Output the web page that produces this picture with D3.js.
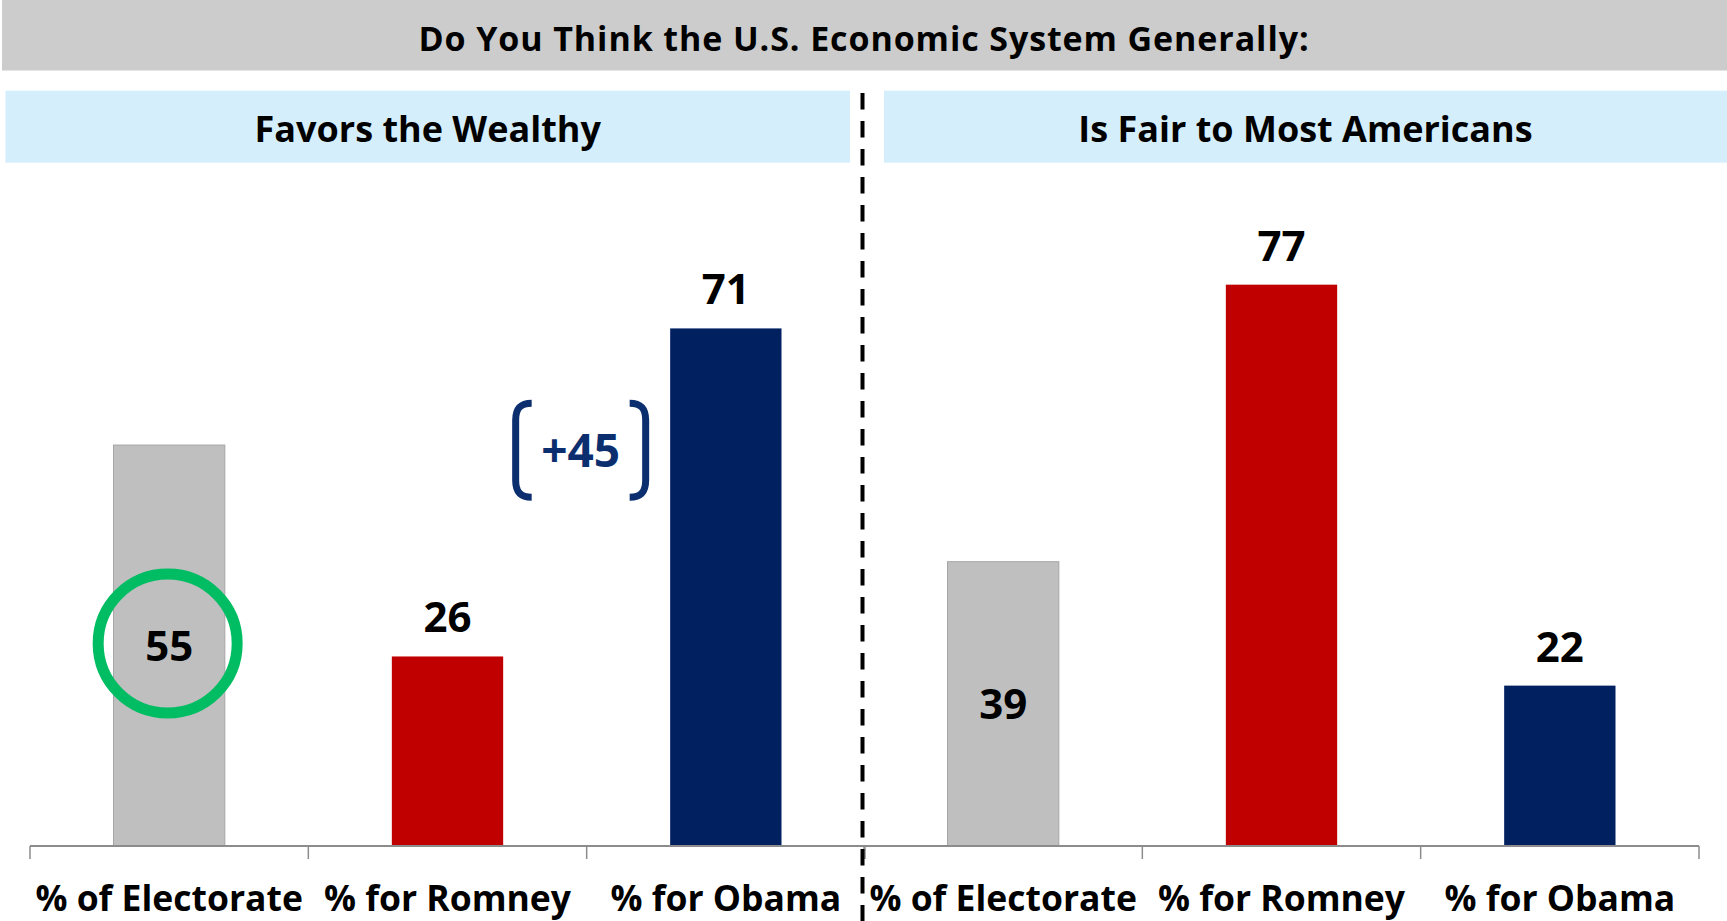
<!DOCTYPE html>
<html>
<head>
<meta charset="utf-8">
<script src="https://cdn.jsdelivr.net/npm/d3@7"></script>
<style>
  html, body { margin: 0; padding: 0; background: #ffffff; }
  svg { display: block; }
  text { font-family: "Open Sans", Lato, sans-serif; font-weight: 700; }
</style>
</head>
<body>
<svg id="chart" width="1727" height="921"></svg>
<script>
// ---- data ----
const title = "Do You Think the U.S. Economic System Generally:";
const panelTitles = ["Favors the Wealthy", "Is Fair to Most Americans"];
const categories = ["% of Electorate", "% for Romney", "% for Obama"];
const favorsWealthyValues = [55, 26, 71];
const fairToMostValues = [39, 77, 22];
const barColors = ["#BFBFBF", "#C00000", "#002060"];
const highlightCategory = "% of Electorate"; // circled in the first panel
const gapAnnotationLevel = 54.3; // value level where "+45" sits

const W = 1727, H = 921;
const svg = d3.select("#chart");

const baseY = 846;
const y = d3.scaleLinear().domain([0, 80]).range([baseY, baseY - 80 * 7.29]);

// title bar
svg.append("rect").attr("x", 2).attr("y", 0).attr("width", W - 2).attr("height", 70.5).attr("fill", "#CCCCCC");
svg.append("text").attr("x", 864).attr("y", 51).attr("text-anchor", "middle")
  .attr("font-size", 34).attr("letter-spacing", 0.9).attr("fill", "#000").text(title);

const panels = [
  { title: panelTitles[0], values: favorsWealthyValues, box: [5.5, 850], range: [30, 865] },
  { title: panelTitles[1], values: fairToMostValues, box: [884, W], range: [864, 1699] }
];

panels.forEach((p, pi) => {
  const g = svg.append("g");
  // header box
  g.append("rect").attr("x", p.box[0]).attr("y", 90.7).attr("width", p.box[1] - p.box[0]).attr("height", 72)
    .attr("fill", "#D5EEFB");
  g.append("text").attr("x", (p.box[0] + p.box[1]) / 2).attr("y", 142).attr("text-anchor", "middle")
    .attr("font-size", 36).attr("fill", "#000").text(p.title);

  const x = d3.scaleBand().domain(categories).range(p.range).paddingInner(0.6).paddingOuter(0.3);
  const step = x.step();
  const data = categories.map((c, i) => ({ c, v: p.values[i], color: barColors[i], i }));

  // bars
  g.selectAll("rect.bar").data(data).enter().append("rect")
    .attr("class", "bar")
    .attr("x", d => x(d.c))
    .attr("y", d => y(d.v))
    .attr("width", x.bandwidth())
    .attr("height", d => y(0) - y(d.v))
    .attr("fill", d => d.color)
    .attr("stroke", d => d.i === 0 ? "#A6A6A6" : "none")
    .attr("stroke-width", 1);

  // axis line and boundary ticks
  const tickXs = categories.map(c => x(c) - step * 0.3).concat([p.range[1]]);
  g.append("line").attr("x1", p.range[0]).attr("x2", p.range[1]).attr("y1", baseY).attr("y2", baseY)
    .attr("stroke", "#8C8C8C").attr("stroke-width", 2);
  g.selectAll("line.tick").data(tickXs).enter().append("line")
    .attr("class", "tick")
    .attr("x1", d => d).attr("x2", d => d).attr("y1", baseY).attr("y2", baseY + 13)
    .attr("stroke", "#8C8C8C").attr("stroke-width", 1.5);

  // category labels
  g.selectAll("text.cat").data(categories).enter().append("text")
    .attr("class", "cat")
    .attr("x", c => x(c) + x.bandwidth() / 2)
    .attr("y", 911)
    .attr("text-anchor", "middle")
    .attr("font-size", 35.5)
    .attr("fill", "#000")
    .text(c => c);

  // value labels
  g.selectAll("text.val").data(data).enter().append("text")
    .attr("class", "val")
    .attr("x", d => x(d.c) + x.bandwidth() / 2)
    .attr("y", d => d.i === 0 ? (y(d.v) + y(0)) / 2 + 15 : y(d.v) - 24)
    .attr("text-anchor", "middle")
    .attr("font-size", 42)
    .attr("fill", "#000")
    .text(d => d.v);

  if (pi === 0) {
    // green circle around the electorate value
    const d0 = data.find(d => d.c === highlightCategory);
    g.append("circle")
      .attr("cx", x(d0.c) + x.bandwidth() / 2 - 1.5)
      .attr("cy", (y(d0.v) + y(0)) / 2 - 2)
      .attr("r", 69.5)
      .attr("fill", "none")
      .attr("stroke", "#00BD63")
      .attr("stroke-width", 11);

    // "+45" bracket annotation
    const romney = p.values[1], obama = p.values[2];
    const cx = x(categories[2]) - 89.5;
    const cy = y(gapAnnotationLevel);
    const half = 47, r = 17;
    const navy = "#0B2F6E";
    const lx = cx - 65, rx = cx + 65;
    g.append("path")
      .attr("d", `M ${lx + 16},${cy - half} C ${lx + 4},${cy - half} ${lx},${cy - half + 6} ${lx},${cy - half + r}
                  L ${lx},${cy + half - r} C ${lx},${cy + half - 6} ${lx + 4},${cy + half} ${lx + 16},${cy + half}`)
      .attr("fill", "none").attr("stroke", navy).attr("stroke-width", 7);
    g.append("path")
      .attr("d", `M ${rx - 16},${cy - half} C ${rx - 4},${cy - half} ${rx},${cy - half + 6} ${rx},${cy - half + r}
                  L ${rx},${cy + half - r} C ${rx},${cy + half - 6} ${rx - 4},${cy + half} ${rx - 16},${cy + half}`)
      .attr("fill", "none").attr("stroke", navy).attr("stroke-width", 7);
    g.append("text").attr("x", cx).attr("y", cy + 17).attr("text-anchor", "middle")
      .attr("font-size", 46).attr("fill", navy).text("+" + (obama - romney));
  }
});

// dashed divider
svg.append("line").attr("x1", 862.5).attr("x2", 862.5).attr("y1", 93).attr("y2", H)
  .attr("stroke", "#000").attr("stroke-width", 4).attr("stroke-dasharray", "16.5 11.5");
</script>
</body>
</html>
